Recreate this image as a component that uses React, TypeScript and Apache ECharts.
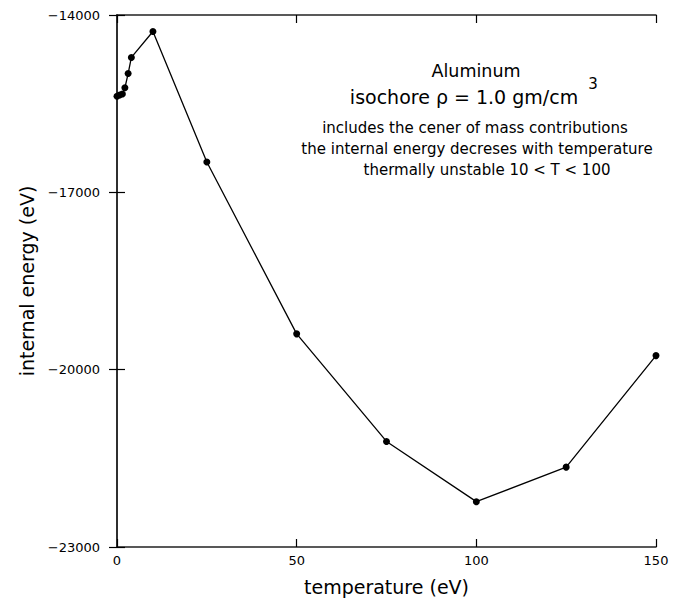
import React, { useEffect, useRef } from "react";
import * as echarts from "echarts";

const temperature = [0, 0.75, 1.5, 2.2, 3.1, 4, 10, 25, 50, 75, 100, 125, 150];
const energy = [-15374, -15353, -15336, -15231, -14990, -14718, -14279, -16488, -19394, -21214, -22233, -21649, -19762];
const xTicks = [0, 50, 100, 150];
const yTicks = [-23000, -20000, -17000, -14000];
const titleLines = ["Aluminum", "isochore \u03c1 = 1.0 gm/cm", "3"];
const noteLines = [
  "includes the cener of mass contributions",
  "the internal energy decreses with temperature",
  "thermally unstable 10 < T < 100",
];

const FONT = "DejaVu Sans";

export default function App() {
  const ref = useRef<HTMLDivElement>(null);
  useEffect(() => {
    if (!ref.current) return;
    const chart = echarts.init(ref.current, null, { renderer: "svg" });
    const data = temperature.map((t, i) => [t, energy[i]]);
    const axisCommon = {
      axisLine: { show: true, lineStyle: { color: "#222", width: 1.5 } },
      axisTick: { show: true, inside: true, length: 8, lineStyle: { color: "#000", width: 1.2 } },
      splitLine: { show: false },
    };
    const noteX = [475, 477, 487];
    chart.setOption({
      animation: false,
      backgroundColor: "#fff",
      grid: { left: 117, right: 25, top: 15, bottom: 47 },
      xAxis: [
        {
          type: "value",
          min: xTicks[0],
          max: xTicks[xTicks.length - 1],
          interval: 50,
          position: "bottom",
          name: "temperature (eV)",
          nameLocation: "middle",
          nameGap: 30,
          nameTextStyle: { fontFamily: FONT, fontSize: 19, color: "#000" },
          axisLabel: { fontFamily: FONT, fontSize: 13, color: "#000", margin: 7 },
          ...axisCommon,
        },
        {
          type: "value",
          min: xTicks[0],
          max: xTicks[xTicks.length - 1],
          interval: 50,
          position: "top",
          axisLabel: { show: false },
          ...axisCommon,
        },
      ],
      yAxis: [
        {
          type: "value",
          min: yTicks[0],
          max: yTicks[yTicks.length - 1],
          interval: 3000,
          position: "left",
          name: "internal energy (eV)",
          nameLocation: "middle",
          nameGap: 72,
          nameTextStyle: { fontFamily: FONT, fontSize: 19, color: "#000" },
          axisLabel: {
            fontFamily: FONT,
            fontSize: 13,
            color: "#000",
            margin: 17,
            formatter: (v: number) => String(v).replace("-", "\u2212"),
          },
          ...axisCommon,
        },
        {
          type: "value",
          min: yTicks[0],
          max: yTicks[yTicks.length - 1],
          interval: 3000,
          position: "right",
          axisLabel: { show: false },
          ...axisCommon,
        },
      ],
      series: [
        {
          type: "line",
          data,
          symbol: "circle",
          symbolSize: 7,
          itemStyle: { color: "#000" },
          lineStyle: { color: "#000", width: 1.3 },
          clip: false,
        },
      ],
      graphic: [
        {
          type: "text",
          x: 476,
          y: 71,
          style: {
            text: titleLines[0],
            fontFamily: FONT,
            fontSize: 17.5,
            fill: "#000",
            align: "center",
            verticalAlign: "middle",
          },
        },
        {
          type: "text",
          x: 464,
          y: 97,
          style: {
            text: titleLines[1],
            fontFamily: FONT,
            fontSize: 19,
            fill: "#000",
            align: "center",
            verticalAlign: "middle",
          },
        },
        {
          type: "text",
          x: 593,
          y: 84,
          style: {
            text: titleLines[2],
            fontFamily: FONT,
            fontSize: 15,
            fill: "#000",
            align: "center",
            verticalAlign: "middle",
          },
        },
        ...noteLines.map((line, i) => ({
          type: "text",
          x: noteX[i],
          y: 128 + i * 21,
          style: {
            text: line,
            fontFamily: FONT,
            fontSize: 15,
            fill: "#000",
            align: "center",
            verticalAlign: "middle",
          },
        })),
      ],
    });
    return () => chart.dispose();
  }, []);
  return (
    <div
      ref={ref}
      style={{ position: "fixed", left: 0, top: 0, width: 681, height: 601 }}
    />
  );
}
